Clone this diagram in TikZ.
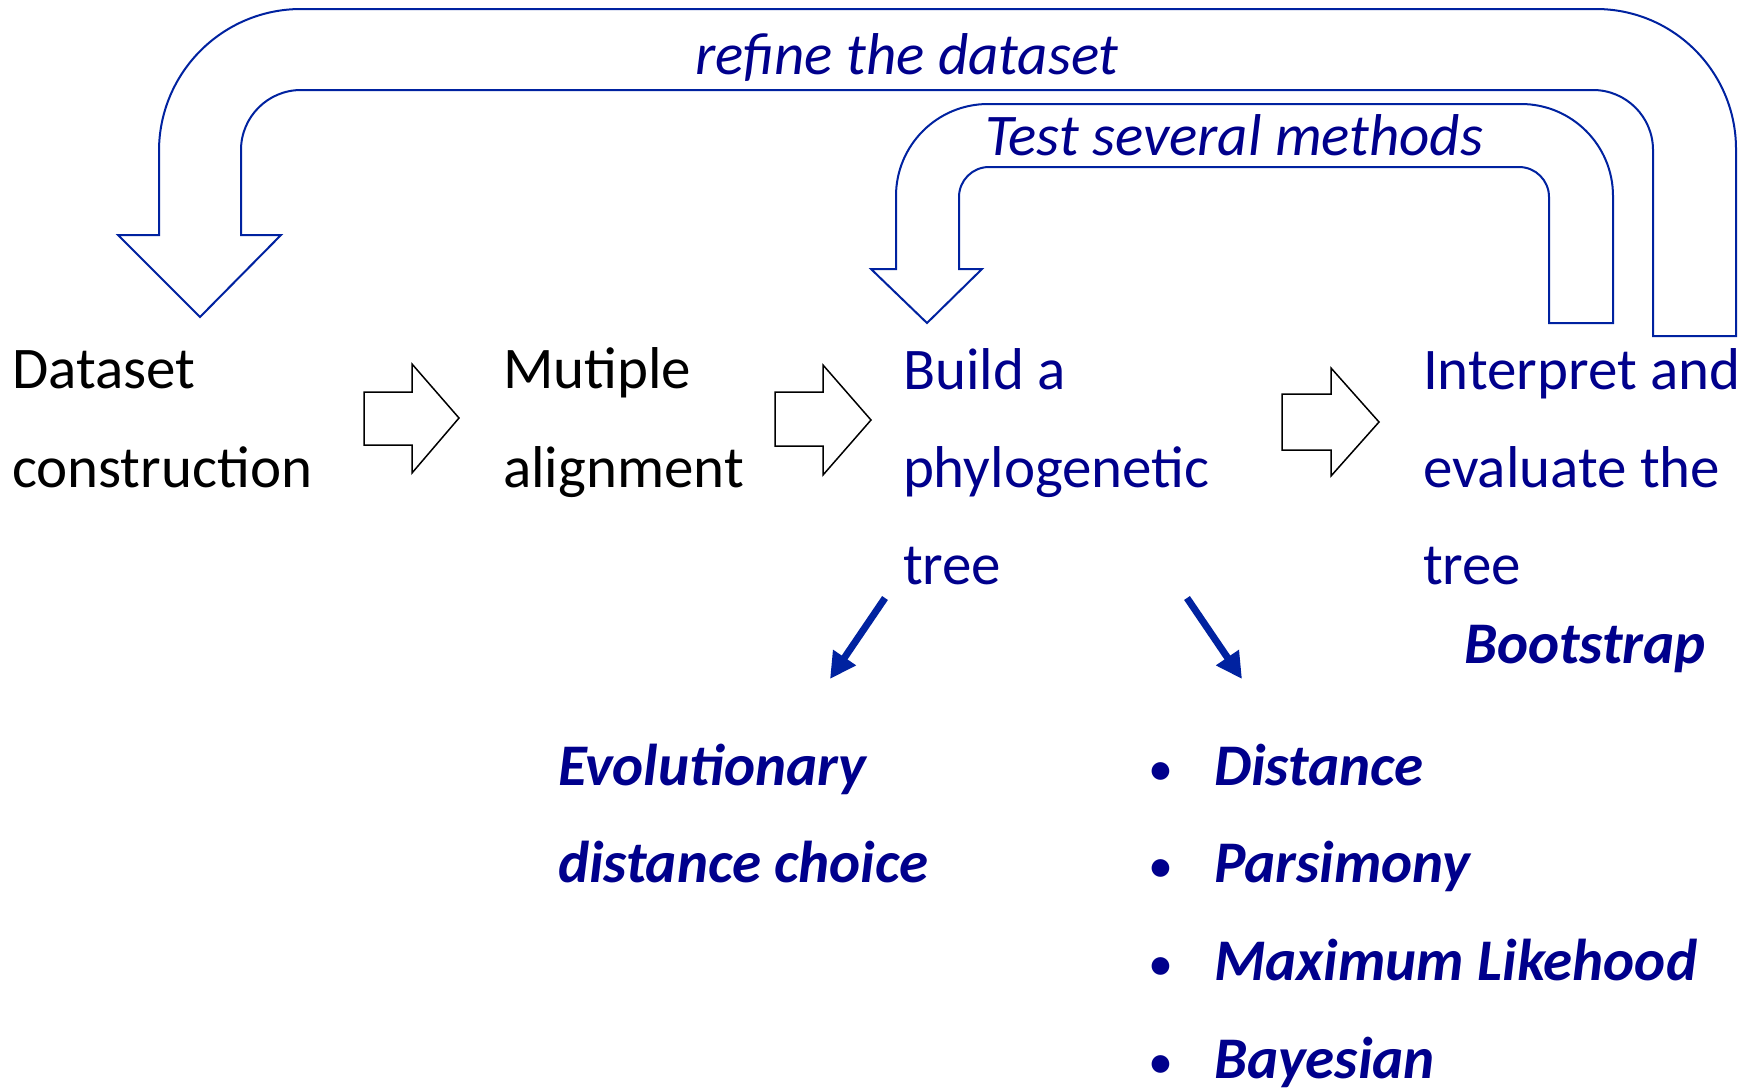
\documentclass[tikz,border=0pt]{standalone}
\usepackage{fontspec}
\setmainfont{Carlito}
\usetikzlibrary{arrows.meta}
\definecolor{tblue}{RGB}{0,0,140}
\definecolor{lblue}{RGB}{0,34,160}
\tikzset{
  lbl/.style={anchor=base west, inner sep=0pt, outer sep=0pt, font=\fontsize{29.5}{34}\selectfont},
  blk/.style={lbl, text=black},
  blu/.style={lbl, text=tblue},
  ital/.style={lbl, text=tblue, font=\fontsize{29.5}{34}\selectfont\itshape},
  bita/.style={lbl, text=tblue, font=\fontsize{29.5}{34}\selectfont\bfseries\itshape},
  bul/.style={anchor=base, inner sep=0pt, text=tblue, font=\fontsize{25}{30}\selectfont},
  blockarrow/.style={draw=black, line width=0.75pt, fill=white, line join=miter},
  bentarrow/.style={draw=lblue, line width=1pt, fill=white, line join=miter},
  thickarrow/.style={draw=lblue, line width=3.5pt, -{Triangle[length=13pt,width=13pt]}}
}
\begin{document}
\begin{tikzpicture}[x=0.5pt,y=-0.5pt]
\useasboundingbox (0,0) rectangle (1756,1088);
\fill[white] (0,0) rectangle (1756,1088);

% big bent arrow (refine the dataset)
\draw[bentarrow] (1736,336) -- (1736,149) arc[start angle=0,end angle=-90,radius=140]
  -- (301,9) arc[start angle=-90,end angle=-180,radius=142]
  -- (159,235) -- (118,235) -- (200,317) -- (281,235) -- (241,235)
  -- (241,150) arc[start angle=180,end angle=270,radius=60]
  -- (1593,90) arc[start angle=-90,end angle=0,radius=60]
  -- (1653,336) -- cycle;

% bent arrow (Test several methods)
\draw[bentarrow] (1613,323) -- (1613,196) arc[start angle=0,end angle=-90,radius=92]
  -- (988,104) arc[start angle=-90,end angle=-180,radius=92]
  -- (896,269) -- (871,269) -- (927,323) -- (982,269) -- (959,269)
  -- (959,197) arc[start angle=180,end angle=270,radius=30]
  -- (1519,167) arc[start angle=-90,end angle=0,radius=30]
  -- (1549,323) -- cycle;

\node[ital] (refine) at (695,74) {refine the dataset};
\node[ital] (test) at (985,155) {Test several methods};

% block arrows
\draw[blockarrow] (364,392) -- (412,392) -- (412,364) -- (459,418) -- (412,473) -- (412,445) -- (364,445) -- cycle;
\draw[blockarrow] (775,392) -- (823,392) -- (823,365) -- (871,420) -- (823,475) -- (823,446) -- (775,446) -- cycle;
\draw[blockarrow] (1282,394) -- (1331,394) -- (1331,368) -- (1379,422) -- (1331,476) -- (1331,450) -- (1282,450) -- cycle;

% main labels
\node[blk] (ds1) at (12,388) {Dataset};
\node[blk] (ds2) at (12,487) {construction};
\node[blk] (ma1) at (503,388) {Mutiple};
\node[blk] (ma2) at (503,487) {alignment};
\node[blu] (bt1) at (903,389) {Build a};
\node[blu] (bt2) at (903,487) {phylogenetic};
\node[blu] (bt3) at (903,584) {tree};
\node[blu] (ie1) at (1423,389) {Interpret and};
\node[blu] (ie2) at (1423,487) {evaluate the};
\node[blu] (ie3) at (1423,584) {tree};

\node[bita] (boot) at (1464,663) {Bootstrap};

% thick arrows
\coordinate (l1) at (885,598);
\coordinate (l2) at (830,679);
\coordinate (r1) at (1187,598);
\coordinate (r2) at (1242,679);
\draw[thickarrow] (l1) -- (l2);
\draw[thickarrow] (r1) -- (r2);

% bottom labels
\node[bita] (evo1) at (558,785) {Evolutionary};
\node[bita] (evo2) at (558,882) {distance choice};

\node[bul] (b1) at (1161,785) {•};
\node[bul] (b2) at (1161,882) {•};
\node[bul] (b3) at (1161,980) {•};
\node[bul] (b4) at (1161,1078) {•};
\node[bita] (m1) at (1214,785) {Distance};
\node[bita] (m2) at (1214,882) {Parsimony};
\node[bita] (m3) at (1214,980) {Maximum Likehood};
\node[bita] (m4) at (1214,1078) {Bayesian};
\end{tikzpicture}
\end{document}
